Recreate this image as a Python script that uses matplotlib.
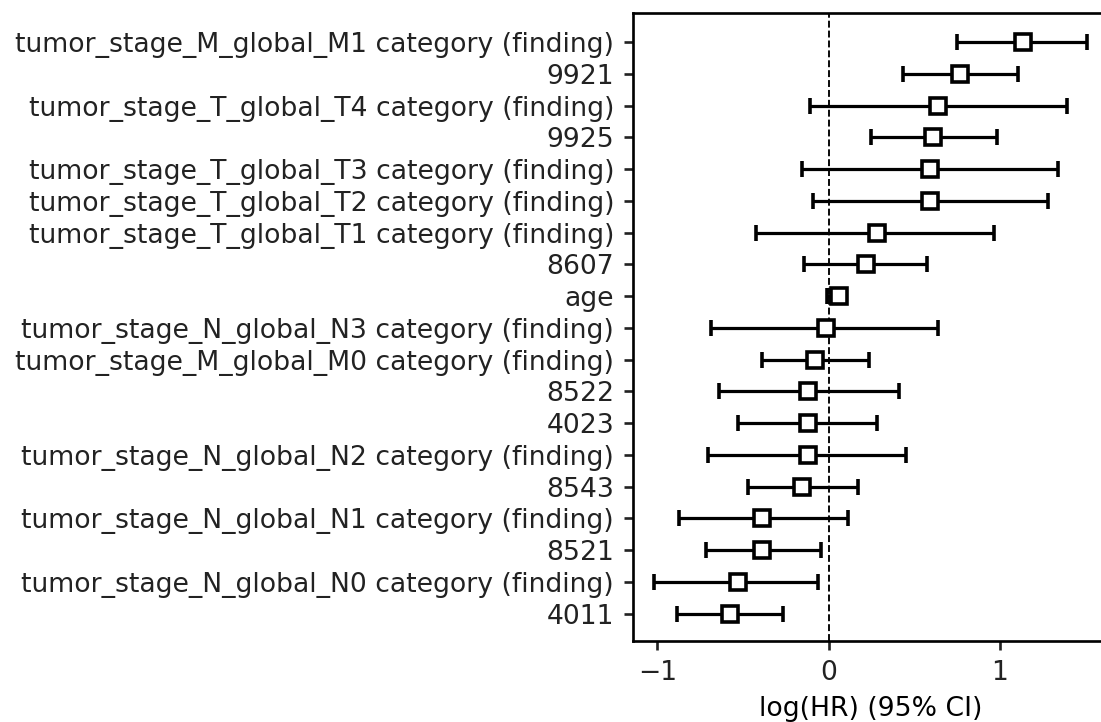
import numpy as np
import matplotlib
matplotlib.use("Agg")
import matplotlib.pyplot as plt

# covariates, listed top to bottom as in the plot
covariates = [
    "tumor_stage_M_global_M1 category (finding)",
    "9921",
    "tumor_stage_T_global_T4 category (finding)",
    "9925",
    "tumor_stage_T_global_T3 category (finding)",
    "tumor_stage_T_global_T2 category (finding)",
    "tumor_stage_T_global_T1 category (finding)",
    "8607",
    "age",
    "tumor_stage_N_global_N3 category (finding)",
    "tumor_stage_M_global_M0 category (finding)",
    "8522",
    "4023",
    "tumor_stage_N_global_N2 category (finding)",
    "8543",
    "tumor_stage_N_global_N1 category (finding)",
    "8521",
    "tumor_stage_N_global_N0 category (finding)",
    "4011",
]
coef = [1.135, 0.765, 0.638, 0.607, 0.592, 0.592, 0.282, 0.218, 0.058, -0.015,
        -0.078, -0.123, -0.123, -0.123, -0.158, -0.387, -0.387, -0.529, -0.578]
ci_lower = [0.750, 0.436, -0.109, 0.249, -0.155, -0.093, -0.422, -0.142, -0.009, -0.687,
            -0.387, -0.640, -0.531, -0.704, -0.471, -0.874, -0.716, -1.018, -0.885]
ci_upper = [1.512, 1.105, 1.392, 0.985, 1.343, 1.281, 0.967, 0.576, 0.100, 0.640,
            0.236, 0.409, 0.280, 0.454, 0.171, 0.111, -0.047, -0.062, -0.266]

coef = np.array(coef)
lo = coef - np.array(ci_lower)
hi = np.array(ci_upper) - coef
ypos = np.arange(len(covariates))[::-1]

plt.rcParams['axes.linewidth'] = 1.0
plt.rcParams['xtick.major.width'] = 1.0
plt.rcParams['ytick.major.width'] = 1.0
plt.rcParams['text.color'] = '#222222'
plt.rcParams['xtick.color'] = '#222222'
plt.rcParams['ytick.color'] = '#222222'

dpi = 192
fig = plt.figure(figsize=(1101 / dpi, 722 / dpi), dpi=dpi)
ax = fig.add_axes([0.5747, 0.1122, 0.4326, 0.8698])

ax.errorbar(coef, ypos, xerr=[lo, hi], fmt="s", c="k",
            markerfacecolor="white", markeredgewidth=1.35,
            elinewidth=1.2, capsize=3.0, capthick=1.2)
ax.axvline(0, c="k", linestyle="--", linewidth=0.7)

ax.set_yticks(ypos)
ax.set_yticklabels(covariates)
ax.set_xlabel("log(HR) (95% CI)")
ax.set_ylim(-0.86, 18.92)

fig.savefig("out.png", dpi=dpi)
